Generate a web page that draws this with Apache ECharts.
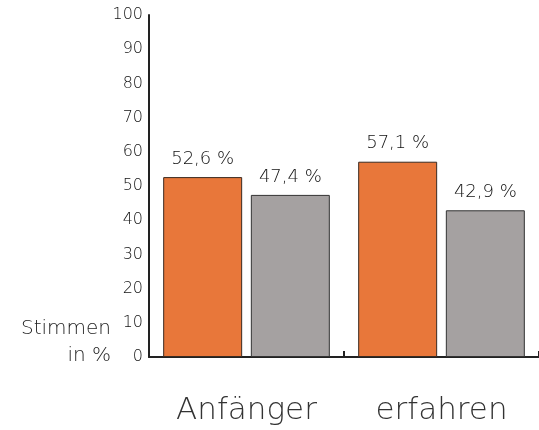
<!DOCTYPE html>
<html><head><meta charset="utf-8">
<script src="https://cdn.jsdelivr.net/npm/echarts@6/dist/echarts.min.js"></script>
<style>html,body{margin:0;padding:0;background:#fff}#c{width:539px;height:430px}</style>
</head><body><div id="c"></div>
<script>
const categories = ['Anfänger', 'erfahren'];
const seriesA = [52.6, 57.1];
const seriesB = [47.4, 42.9];
const yTicks = [0, 10, 20, 30, 40, 50, 60, 70, 80, 90, 100];

const chart = echarts.init(document.getElementById('c'));
const fmt = p => p.value.toFixed(1).replace('.', ',') + ' %';
const font = '"DejaVu Sans", sans-serif';
const fw = 200;
chart.setOption({
  animation: false,
  textStyle: { fontFamily: font },
  grid: { left: 149, top: 15, width: 392, height: 342, containLabel: false },
  xAxis: {
    type: 'category', data: categories,
    axisLine: { lineStyle: { color: '#222', width: 2 } },
    axisTick: { show: true, inside: true, length: 6, lineStyle: { color: '#222', width: 2 } },
    axisLabel: { fontSize: 31, color: '#333', fontWeight: fw, margin: 38, fontFamily: font }
  },
  yAxis: {
    type: 'value', min: yTicks[0], max: yTicks[yTicks.length - 1], interval: 10,
    axisLine: { show: true, lineStyle: { color: '#222', width: 2 } },
    axisTick: { show: false },
    splitLine: { show: false },
    axisLabel: { fontSize: 16, color: '#111', fontWeight: fw, margin: 6, fontFamily: font }
  },
  graphic: [
    { type: 'text', x: 111, y: 329,
      style: { text: 'Stimmen', fontSize: 20, fill: '#222', fontWeight: fw, textAlign: 'right', textVerticalAlign: 'middle', fontFamily: font } },
    { type: 'text', x: 111, y: 356,
      style: { text: 'in %', fontSize: 20, fill: '#222', fontWeight: fw, textAlign: 'right', textVerticalAlign: 'middle', fontFamily: font } }
  ],
  series: [
    { type: 'bar', data: seriesA, barWidth: '40.5%', barGap: '11%',
      itemStyle: { color: '#E8773A', borderColor: '#3a2a20', borderWidth: 1 },
      label: { show: true, position: 'top', distance: 9, fontSize: 18, fontWeight: fw, color: '#111', formatter: fmt, fontFamily: font } },
    { type: 'bar', data: seriesB, barWidth: '40.5%',
      itemStyle: { color: '#A5A1A1', borderColor: '#333', borderWidth: 1 },
      label: { show: true, position: 'top', distance: 9, fontSize: 18, fontWeight: fw, color: '#111', formatter: fmt, fontFamily: font } }
  ]
});
</script></body></html>
